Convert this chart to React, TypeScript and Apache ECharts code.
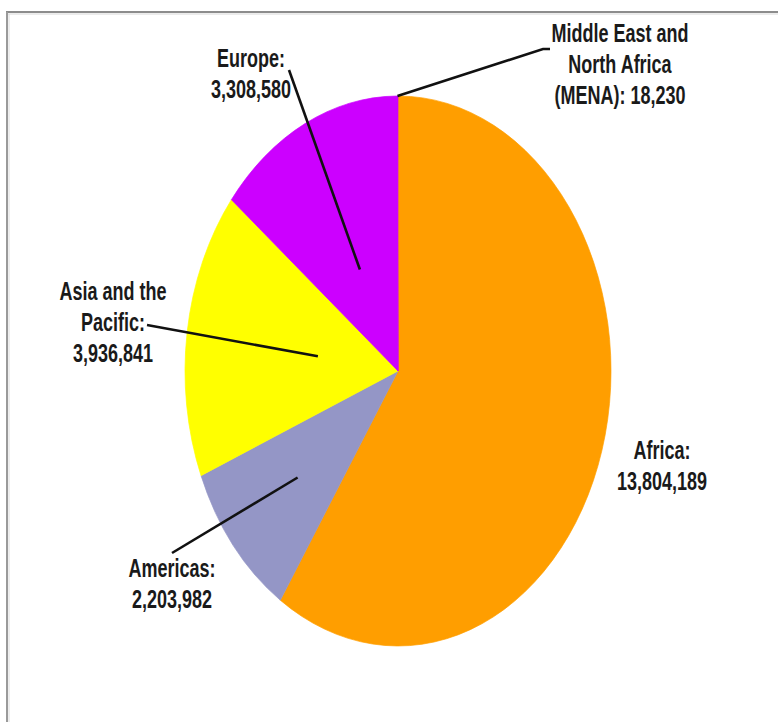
import React, { useEffect, useRef } from "react";
import * as echarts from "echarts";

// ---- data ----
const regions = [
  "Africa",
  "Americas",
  "Asia and the Pacific",
  "Europe",
  "Middle East and North Africa (MENA)",
];
const values = [13804189, 2203982, 3936841, 3308580, 18230];
const labelNames = [
  "Africa:",
  "Americas:",
  "Asia and the\nPacific:",
  "Europe:",
  "Middle East and\nNorth Africa\n(MENA):",
];
const labelSeparators = ["\n", "\n", "\n", "\n", " "];

// ---- styles / layout ----
const colors = ["#FF9E00", "#9496C6", "#FFFF00", "#CC00FF", "#CC00FF"];
const CX = 398;
const CY = 371;
const RX = 213;
const RY = 275;
const labelPos: number[][] = [
  [662, 466],
  [172, 584],
  [113, 322],
  [251, 74],
  [620, 64],
];
const leaderStart: (number[][] | null)[] = [
  null,
  [[172, 553]],
  [[147, 325]],
  [[289, 70]],
  [[550, 49], [543, 49]],
];
const leaderDepth = [0, 0.61, 0.38, 0.41, 1];

export default function App() {
  const ref = useRef<HTMLDivElement>(null);

  useEffect(() => {
    if (!ref.current) return;
    const chart = echarts.init(ref.current, undefined, { renderer: "svg" });
    const total = values.reduce((a, b) => a + b, 0);
    const cumStart: number[] = [];
    let acc = 0;
    values.forEach((v) => {
      cumStart.push(acc);
      acc += v;
    });

    const font = {
      fontFamily: '"Liberation Sans", Arial, sans-serif',
      fontWeight: "bold" as const,
      fontSize: 25,
      lineHeight: 31,
    };

    chart.setOption({
      animation: false,
      backgroundColor: "#ffffff",
      graphic: [
        {
          type: "line",
          shape: { x1: 6, y1: 12, x2: 778, y2: 12 },
          style: { stroke: "#8c8c8c", lineWidth: 2 },
        },
        {
          type: "line",
          shape: { x1: 7, y1: 12, x2: 7, y2: 722 },
          style: { stroke: "#9a9a9a", lineWidth: 2 },
        },
        {
          type: "line",
          shape: { x1: 8, y1: 14, x2: 778, y2: 14 },
          style: { stroke: "#d8d8d8", lineWidth: 1 },
        },
        {
          type: "line",
          shape: { x1: 9, y1: 14, x2: 9, y2: 722 },
          style: { stroke: "#dcdcdc", lineWidth: 1 },
        },
      ],
      series: [
        {
          type: "custom",
          coordinateSystem: "none",
          data: values.map((v, i) => ({ name: regions[i], value: v })),
          renderItem: (params: any, api: any) => {
            const i = params.dataIndex;
            const v = api.value(0);
            const f0 = cumStart[i] / total;
            const f1 = (cumStart[i] + v) / total;
            const a0 = -Math.PI / 2 + 2 * Math.PI * f0;
            const a1 = -Math.PI / 2 + 2 * Math.PI * f1;
            const am = (a0 + a1) / 2;
            const children: any[] = [
              {
                type: "sector",
                x: CX,
                y: CY,
                scaleY: RY / RX,
                shape: {
                  cx: 0,
                  cy: 0,
                  r: RX,
                  r0: 0,
                  startAngle: a0,
                  endAngle: a1,
                  clockwise: true,
                },
                style: { fill: colors[i], stroke: colors[i], lineWidth: 0.6 },
              },
            ];
            const start = leaderStart[i];
            if (start) {
              const d = leaderDepth[i];
              const px = CX + RX * d * Math.cos(am);
              const py = CY + RY * d * Math.sin(am);
              children.push({
                type: "polyline",
                z2: 20,
                shape: { points: [...start, [px, py]] },
                style: { stroke: "#111111", lineWidth: 2.6, fill: null },
              });
            }
            const text =
              labelNames[i] +
              labelSeparators[i] +
              Number(v).toLocaleString("en-US");
            children.push({
              type: "text",
              z2: 30,
              x: labelPos[i][0],
              y: labelPos[i][1],
              scaleX: 0.72,
              style: {
                text,
                x: 0,
                y: 0,
                align: "center",
                verticalAlign: "middle",
                fill: "#1a1a1a",
                ...font,
              },
            });
            return { type: "group", children };
          },
        },
      ],
    });

    return () => chart.dispose();
  }, []);

  return (
    <div
      ref={ref}
      style={{ position: "fixed", left: 0, top: 0, width: 778, height: 722 }}
    />
  );
}
